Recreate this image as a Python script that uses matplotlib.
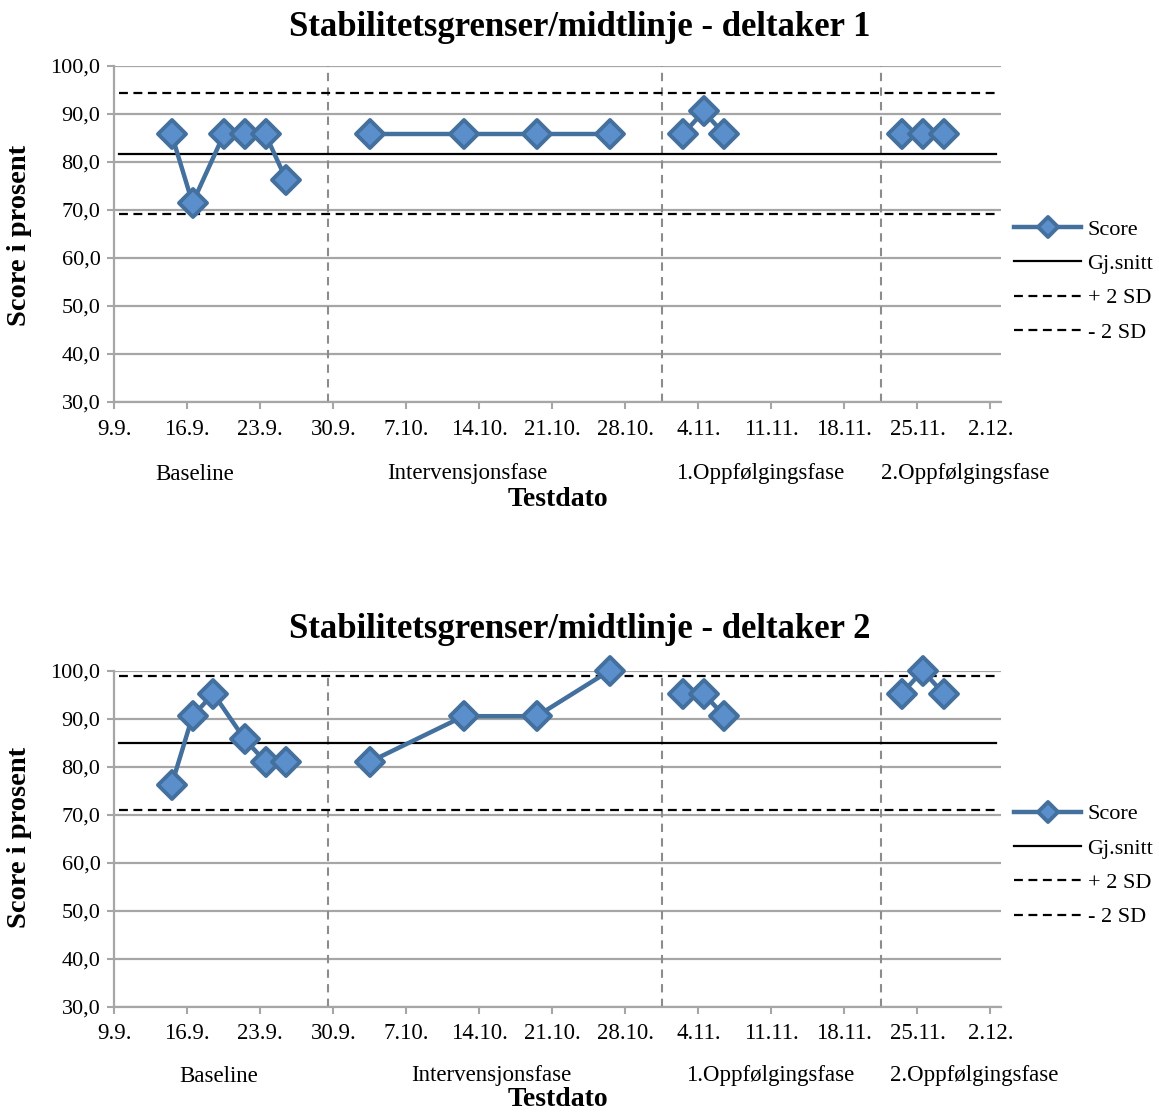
import matplotlib
matplotlib.use('Agg')
import matplotlib.pyplot as plt
from matplotlib.markers import MarkerStyle
import numpy as np
import pandas as pd

plt.rcParams['font.family'] = ['Liberation Serif', 'DejaVu Serif']

# testdatoer for hver fase
baseline_dates_1 = ['2013-09-14', '2013-09-16', '2013-09-19', '2013-09-21', '2013-09-23', '2013-09-25']
baseline_dates_2 = ['2013-09-14', '2013-09-16', '2013-09-18', '2013-09-21', '2013-09-23', '2013-09-25']
intervention_dates = ['2013-10-03', '2013-10-12', '2013-10-19', '2013-10-26']
followup1_dates = ['2013-11-02', '2013-11-04', '2013-11-06']
followup2_dates = ['2013-11-23', '2013-11-25', '2013-11-27']

# score i prosent, deltaker 1
baseline_1 = [85.7, 71.4, 85.7, 85.7, 85.7, 76.2]
intervention_1 = [85.7, 85.7, 85.7, 85.7]
followup1_1 = [85.7, 90.5, 85.7]
followup2_1 = [85.7, 85.7, 85.7]

# score i prosent, deltaker 2
baseline_2 = [76.2, 90.5, 95.2, 85.7, 81.0, 81.0]
intervention_2 = [81.0, 90.5, 90.5, 100.0]
followup1_2 = [95.2, 95.2, 90.5]
followup2_2 = [95.2, 100.0, 95.2]

# gj.snitt og +/- 2 SD fra baseline
mean_vals = [81.7, 84.9]
plus_2sd = [94.4, 98.9]
minus_2sd = [69.1, 70.9]

phase_breaks = ['2013-09-29', '2013-10-31', '2013-11-21']
phase_names = ['Baseline', 'Intervensjonsfase', '1.Oppfølgingsfase', '2.Oppfølgingsfase']
titles = ['Stabilitetsgrenser/midtlinje - deltaker 1', 'Stabilitetsgrenser/midtlinje - deltaker 2']

first_day = pd.Timestamp('2013-09-09')
last_day = pd.Timestamp('2013-12-02')
tick_dates = pd.date_range(first_day, last_day, freq='7D')
tick_labels = ['%d.%d.' % (d.day, d.month) for d in tick_dates]


def day_num(dates, half=True):
    # dager etter 9.9., punktene ligger midt i dagen
    d = (pd.to_datetime(pd.Series(dates)) - first_day).dt.days.values.astype(float)
    return d + 0.5 if half else d


line_col = '#44709E'
face_col = '#5A8FCB'
grid_col = '#A6A6A6'
diamond = MarkerStyle('D', joinstyle='round')

fig = plt.figure(figsize=(11.59, 11.15), dpi=100)

setups = [
    (0.6395, [baseline_1, intervention_1, followup1_1, followup2_1], baseline_dates_1,
     28, 235, 474, 500, [195, 467, 760, 965], 0.36),
    (0.0971, [baseline_2, intervention_2, followup1_2, followup2_2], baseline_dates_2,
     629, 837, 1076, 1100, [219, 491, 770, 974], 0.42),
]

for k, (bottom, phases, bdates, ty, yly, phy, xly, phx, leg_y) in enumerate(setups):
    ax = fig.add_axes([0.0986, bottom, 0.765, 0.3015])
    all_dates = [bdates, intervention_dates, followup1_dates, followup2_dates]

    for j, (dates, vals) in enumerate(zip(all_dates, phases)):
        ax.plot(day_num(dates), vals, color=line_col, lw=3.2, marker=diamond, ms=14,
                mfc=face_col, mec=line_col, mew=2.8, clip_on=False, zorder=5,
                label='Score' if j == 0 else None)

    x0, x1 = 0.5, (last_day - first_day).days + 0.5
    ax.plot([x0, x1], [mean_vals[k]] * 2, color='black', lw=1.6, label='Gj.snitt', zorder=3)
    ax.plot([x0, x1], [plus_2sd[k]] * 2, color='black', lw=1.6, ls=(0, (4, 2.5)),
            label='+ 2 SD', zorder=3)
    ax.plot([x0, x1], [minus_2sd[k]] * 2, color='black', lw=1.6, ls=(0, (4, 2.5)),
            label='- 2 SD', zorder=3)

    for xb in day_num(phase_breaks):
        ax.axvline(xb, color='#8C8C8C', lw=1.5, ls=(0, (4, 3)), zorder=2)

    ax.set_xlim(0, (last_day - first_day).days + 1)
    ax.set_ylim(30, 100)
    ax.set_xticks(day_num(tick_dates, half=False))
    ax.set_xticklabels(tick_labels, fontsize=16.5)
    yt = np.arange(30, 101, 10)
    ax.set_yticks(yt)
    ax.set_yticklabels([('%.1f' % v).replace('.', ',') for v in yt], fontsize=16)
    ax.yaxis.grid(True, color=grid_col, lw=1.6)
    ax.set_axisbelow(True)
    for s in ['top', 'right']:
        ax.spines[s].set_visible(False)
    for s in ['left', 'bottom']:
        ax.spines[s].set_color(grid_col)
        ax.spines[s].set_linewidth(1.6)
    ax.tick_params(axis='x', colors=grid_col, labelcolor='black', length=5, width=1.5, pad=7)
    ax.tick_params(axis='y', colors=grid_col, labelcolor='black', length=5, width=1.5, pad=5)

    ax.legend(loc='center left', bbox_to_anchor=(1.005, leg_y), frameon=False, fontsize=16,
              handlelength=3.0, handletextpad=0.3, labelspacing=0.62, borderaxespad=0,
              numpoints=1, markerscale=0.7)

    fig.text(580 / 1159, 1 - ty / 1115, titles[k], ha='center', va='center',
             fontsize=25, fontweight='bold')
    fig.text(20 / 1159, 1 - yly / 1115, 'Score i prosent', ha='center', va='center',
             rotation=90, fontsize=20.5, fontweight='bold')
    for name, px in zip(phase_names, phx):
        fig.text(px / 1159, 1 - phy / 1115, name, ha='center', va='center', fontsize=16.5)
    fig.text(558 / 1159, 1 - xly / 1115, 'Testdato', ha='center', va='center',
             fontsize=20, fontweight='bold')

fig.savefig('out.png', dpi=100)
